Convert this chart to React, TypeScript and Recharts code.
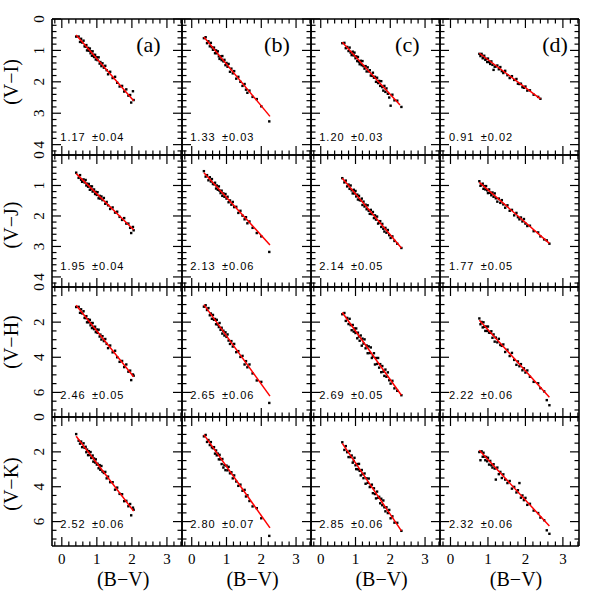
import React from 'react';
import { ScatterChart, Scatter, XAxis, YAxis } from 'recharts';

// B−V of the stars in each sample (columns a–d)
const bvA = [0.41, 0.48, 0.52, 0.55, 0.58, 0.62, 0.65, 0.68, 0.70, 0.72, 0.75, 0.77, 0.80, 0.82, 0.84, 0.86, 0.88, 0.90, 0.92, 0.95, 0.97, 1.00, 1.02, 1.05, 1.08, 1.10, 1.13, 1.16, 1.20, 1.24, 1.28, 1.32, 1.38, 1.45, 1.52, 1.58, 1.65, 1.72, 1.78, 1.84, 1.90, 1.95, 1.98, 2.03, 2.05];
const bvB = [0.35, 0.40, 0.44, 0.48, 0.52, 0.55, 0.58, 0.61, 0.64, 0.67, 0.70, 0.72, 0.75, 0.78, 0.80, 0.83, 0.86, 0.88, 0.91, 0.94, 0.97, 1.00, 1.03, 1.06, 1.10, 1.14, 1.18, 1.22, 1.28, 1.34, 1.40, 1.46, 1.52, 1.56, 1.60, 1.66, 1.75, 1.87, 2.00, 2.23];
const bvC = [0.62, 0.68, 0.72, 0.76, 0.80, 0.83, 0.86, 0.89, 0.92, 0.95, 0.97, 1.00, 1.02, 1.05, 1.07, 1.10, 1.12, 1.15, 1.18, 1.20, 1.23, 1.26, 1.29, 1.32, 1.35, 1.38, 1.41, 1.44, 1.47, 1.50, 1.53, 1.56, 1.59, 1.62, 1.65, 1.68, 1.71, 1.74, 1.77, 1.80, 1.83, 1.86, 1.89, 1.93, 1.97, 2.01, 2.06, 2.12, 2.20, 2.32];
const bvD = [0.77, 0.80, 0.83, 0.86, 0.88, 0.90, 0.93, 0.95, 0.98, 1.00, 1.03, 1.06, 1.09, 1.12, 1.15, 1.18, 1.21, 1.25, 1.29, 1.33, 1.37, 1.41, 1.46, 1.52, 1.58, 1.64, 1.70, 1.76, 1.80, 1.84, 1.88, 1.92, 1.96, 2.00, 2.05, 2.12, 2.22, 2.34, 2.40, 2.50, 2.57, 2.64];

// V−I
const viA = [0.56, 0.56, 0.73, 0.63, 0.75, 0.69, 0.87, 0.88, 0.83, 1.00, 0.92, 1.01, 0.94, 1.09, 1.03, 1.17, 1.03, 1.14, 1.21, 1.14, 1.29, 1.22, 1.31, 1.22, 1.42, 1.37, 1.50, 1.41, 1.55, 1.49, 1.63, 1.76, 1.68, 1.88, 1.84, 2.03, 2.15, 2.13, 2.31, 2.24, 2.44, 2.42, 2.66, 2.30, 2.58];
const viB = [0.61, 0.58, 0.77, 0.71, 0.87, 0.76, 0.90, 0.98, 0.91, 1.09, 1.00, 1.09, 1.03, 1.19, 1.27, 1.19, 1.31, 1.18, 1.35, 1.30, 1.47, 1.40, 1.52, 1.43, 1.68, 1.58, 1.73, 1.66, 1.90, 1.84, 2.00, 2.13, 2.07, 2.25, 2.35, 2.28, 2.48, 2.55, 2.78, 3.26];
const viC = [0.77, 0.76, 0.93, 0.89, 1.02, 0.91, 1.07, 1.15, 1.04, 1.16, 1.07, 1.25, 1.19, 1.34, 1.21, 1.36, 1.44, 1.33, 1.47, 1.34, 1.50, 1.58, 1.50, 1.67, 1.54, 1.67, 1.63, 1.80, 1.81, 1.71, 1.87, 1.84, 2.00, 1.87, 2.04, 1.97, 2.13, 1.98, 2.17, 2.28, 2.13, 2.32, 2.21, 2.38, 2.50, 2.76, 2.41, 2.59, 2.60, 2.80];
const viD = [1.11, 1.18, 1.11, 1.25, 1.22, 1.17, 1.30, 1.27, 1.37, 1.26, 1.37, 1.43, 1.35, 1.46, 1.62, 1.52, 1.51, 1.48, 1.60, 1.53, 1.66, 1.72, 1.65, 1.79, 1.88, 1.82, 1.94, 1.91, 2.06, 2.07, 2.06, 2.17, 2.19, 2.15, 2.28, 2.27, 2.41, 2.48, 2.54, null, null, null];

// V−J
const vjA = [0.58, 0.75, 0.66, 0.81, 0.88, 0.80, 0.90, 0.82, 1.00, 0.94, 1.04, 0.95, 1.14, 1.03, 1.12, 1.03, 1.20, 1.17, 1.13, 1.28, 1.21, 1.31, 1.22, 1.42, 1.34, 1.43, 1.36, 1.48, 1.41, 1.60, 1.54, 1.65, 1.77, 1.72, 1.89, 1.86, 2.03, 2.13, 2.07, 2.25, 2.25, 2.39, 2.56, 2.36, 2.47];
const vjB = [0.53, 0.71, 0.66, 0.83, 0.73, 0.87, 0.79, 0.95, 0.96, 0.91, 1.10, 1.00, 1.14, 1.03, 1.17, 1.25, 1.17, 1.34, 1.26, 1.37, 1.28, 1.43, 1.37, 1.55, 1.49, 1.63, 1.54, 1.71, 1.70, 1.90, 1.83, 1.99, 2.11, 2.04, 2.24, 2.18, 2.39, 2.56, 2.67, 3.18];
const vjC = [0.76, 0.90, 0.84, 1.03, 0.97, 1.11, 1.00, 1.16, 1.26, 1.14, 1.26, 1.18, 1.36, 1.30, 1.46, 1.34, 1.48, 1.49, 1.43, 1.64, 1.53, 1.69, 1.63, 1.78, 1.65, 1.83, 1.93, 1.80, 1.94, 1.87, 2.07, 1.98, 2.12, 2.02, 2.25, 2.22, 2.17, 2.36, 2.26, 2.42, 2.51, 2.39, 2.55, 2.46, 2.63, 2.72, 2.67, 2.82, 2.91, 3.05];
const vjD = [0.86, 1.01, 0.98, 0.94, 1.11, 1.02, 1.13, 1.02, 1.16, 1.25, 1.13, 1.24, 1.32, 1.23, 1.37, 1.26, 1.42, 1.53, 1.43, 1.57, 1.48, 1.62, 1.73, 1.65, 1.83, 1.80, 1.98, 1.90, 2.04, 2.11, 2.05, 2.18, 2.10, 2.25, 2.33, 2.32, 2.50, 2.54, 2.67, 2.77, 2.80, 2.91];

// V−H
const vhA = [1.14, 1.13, 1.47, 1.27, 1.50, 1.38, 1.76, 1.77, 1.66, 2.01, 1.84, 2.01, 1.87, 2.18, 2.05, 2.34, 2.05, 2.28, 2.40, 2.26, 2.57, 2.42, 2.61, 2.43, 2.82, 2.71, 2.99, 2.80, 3.08, 2.96, 3.24, 3.48, 3.33, 3.72, 3.63, 4.00, 4.26, 4.21, 4.56, 4.41, 4.82, 4.76, 5.30, 4.98, 5.05];
const vhB = [1.12, 1.04, 1.31, 1.20, 1.61, 1.51, 1.81, 1.59, 1.87, 1.82, 2.12, 1.87, 2.14, 2.28, 2.05, 2.44, 2.32, 2.65, 2.49, 2.76, 2.58, 2.84, 2.70, 3.05, 3.24, 3.08, 3.39, 3.24, 3.71, 3.65, 3.98, 3.92, 4.41, 4.22, 4.57, 4.41, 4.92, 5.32, 5.40, 6.60];
const vhC = [1.55, 1.48, 1.93, 1.76, 2.11, 1.81, 2.17, 2.46, 2.16, 2.54, 2.36, 2.62, 2.36, 2.92, 2.60, 2.82, 3.06, 2.76, 3.34, 2.94, 3.22, 2.98, 3.49, 3.33, 3.77, 3.38, 3.76, 3.44, 4.04, 3.95, 3.77, 4.41, 4.04, 4.38, 4.04, 4.59, 4.39, 4.85, 4.50, 4.82, 5.06, 4.70, 5.11, 4.86, 5.31, 5.50, 5.34, 5.77, 5.91, 6.16];
const vhD = [1.79, 2.12, 1.99, 2.30, 2.01, 2.27, 2.50, 2.25, 2.50, 2.25, 2.60, 2.61, 2.52, 2.89, 2.70, 3.11, 2.88, 3.15, 2.95, 3.30, 3.35, 3.27, 3.70, 3.57, 3.93, 3.75, 4.15, 4.43, 4.24, 4.51, 4.39, 4.74, 4.63, 4.87, 4.75, 5.11, 5.40, 5.48, 5.76, 5.94, 6.44, 6.73];

// V−K
const vkA = [0.98, 1.36, 1.53, 1.41, 1.73, 1.51, 1.77, 1.71, 2.02, 1.87, 2.19, 1.96, 2.18, 2.01, 2.35, 2.30, 2.21, 2.56, 2.38, 2.61, 2.43, 2.73, 2.68, 2.94, 2.76, 3.03, 2.81, 3.13, 3.21, 3.15, 3.52, 3.42, 3.74, 3.74, 4.17, 4.05, 4.41, 4.43, 4.83, 4.81, 5.12, 4.99, 5.64, 5.20, 5.32];
const vkB = [1.11, 1.03, 1.43, 1.32, 1.61, 1.44, 1.74, 1.79, 1.73, 2.10, 1.92, 2.20, 2.10, 2.43, 2.17, 2.43, 2.70, 2.41, 2.90, 2.76, 3.05, 2.79, 3.06, 2.86, 3.23, 3.17, 3.52, 3.35, 3.70, 3.95, 3.88, 4.23, 4.18, 4.56, 4.49, 4.82, 5.13, 5.23, 5.81, 6.82];
const vkC = [1.45, 1.89, 1.67, 2.02, 2.30, 1.95, 2.30, 2.21, 2.62, 2.52, 2.34, 2.77, 2.99, 2.70, 3.00, 2.69, 3.09, 3.35, 3.04, 3.28, 3.51, 3.24, 3.83, 3.52, 3.78, 3.53, 4.02, 3.97, 3.88, 4.37, 4.09, 4.42, 4.67, 4.28, 4.63, 4.58, 4.95, 4.69, 5.06, 4.79, 5.18, 5.41, 5.18, 5.51, 5.33, 5.81, 5.70, 6.06, 6.07, 6.53];
const vkD = [2.01, 2.48, 1.97, 2.28, 2.05, 2.27, 2.48, 2.29, 2.54, 2.34, 2.73, 2.52, 2.77, 2.90, 2.71, 2.96, 3.59, 2.90, 3.28, 3.15, 3.50, 3.29, 3.59, 3.79, 3.67, 4.11, 4.01, 4.33, 4.20, 3.79, 4.63, 4.50, 4.77, 4.64, 5.04, 4.98, 5.37, 5.51, 5.77, 5.92, 6.50, 6.70];

// fitted lines per column: [x0, y0, x1, y1]
const fitVI = [[0.41, 0.51, 2.05, 2.60], [0.35, 0.57, 2.25, 3.10], [0.62, 0.74, 2.28, 2.74], [0.77, 1.09, 2.40, 2.54]];
const fitVJ = [[0.41, 0.61, 2.05, 2.45], [0.35, 0.58, 2.25, 2.95], [0.62, 0.76, 2.32, 3.05], [0.77, 0.90, 2.64, 2.90]];
const fitVH = [[0.41, 1.04, 2.05, 5.11], [0.35, 1.00, 2.25, 6.21], [0.62, 1.45, 2.32, 6.16], [0.77, 1.89, 2.64, 6.27]];
const fitVK = [[0.41, 1.10, 2.05, 5.40], [0.35, 1.01, 2.25, 6.36], [0.62, 1.51, 2.32, 6.53], [0.77, 1.91, 2.64, 6.25]];

// slope labels
const slopeVI = ['1.17', '1.33', '1.20', '0.91'];
const errVI = ['0.04', '0.03', '0.03', '0.02'];
const slopeVJ = ['1.95', '2.13', '2.14', '1.77'];
const errVJ = ['0.04', '0.06', '0.05', '0.05'];
const slopeVH = ['2.46', '2.65', '2.69', '2.22'];
const errVH = ['0.05', '0.06', '0.05', '0.06'];
const slopeVK = ['2.52', '2.80', '2.85', '2.32'];
const errVK = ['0.06', '0.07', '0.06', '0.06'];

const panelLetters = ['(a)', '(b)', '(c)', '(d)'];
const yTitles = ['(V\u2212I)', '(V\u2212J)', '(V\u2212H)', '(V\u2212K)'];
const xTitle = '(B\u2212V)';

// ticks
const xTicks = [-0.2, 0, 0.2, 0.4, 0.6, 0.8, 1, 1.2, 1.4, 1.6, 1.8, 2, 2.2, 2.4, 2.6, 2.8, 3, 3.2, 3.4];
const xMajor = [0, 1, 2, 3];
const yTicksIJ = [0, 0.2, 0.4, 0.6, 0.8, 1, 1.2, 1.4, 1.6, 1.8, 2, 2.2, 2.4, 2.6, 2.8, 3, 3.2, 3.4, 3.6, 3.8, 4, 4.2];
const yMajorIJ = [0, 1, 2, 3, 4];
const yTicksHK = [0, 0.5, 1, 1.5, 2, 2.5, 3, 3.5, 4, 4.5, 5, 5.5, 6, 6.5, 7];
const yMajorHK = [0, 2, 4, 6];

// ---- layout ----
const COL_LEFT = [52, 182, 311, 440];
const COL_W = [130, 129, 129, 139];
const ROW_TOP = [19, 155, 287, 417];
const ROW_H = [136, 132, 130, 129];
const X_DOMAIN: [number, number] = [-0.28, 3.43];
const Y_DOMAINS: [number, number][] = [[0, 4.33], [0, 4.33], [0, 7.4], [0, 7.4]];
const MAJOR_LEN = 9;
const MINOR_LEN = 4.5;
const AX = 1; // axis band thickness (px) so that the axes render

const colBV = [bvA, bvB, bvC, bvD];
const rowY = [[viA, viB, viC, viD], [vjA, vjB, vjC, vjD], [vhA, vhB, vhC, vhD], [vkA, vkB, vkC, vkD]];
const rowFits = [fitVI, fitVJ, fitVH, fitVK];
const rowSlopes = [slopeVI, slopeVJ, slopeVH, slopeVK];
const rowErrs = [errVI, errVJ, errVH, errVK];
const rowTicks = [yTicksIJ, yTicksIJ, yTicksHK, yTicksHK];
const rowMajors = [yMajorIJ, yMajorIJ, yMajorHK, yMajorHK];

const serif = '"Liberation Serif", "DejaVu Serif", serif';
const sans = '"Liberation Sans", Arial, sans-serif';
const tickFont = { fontFamily: serif, fontSize: 15, fill: '#000' };
const titleFont = { fontFamily: serif, fontSize: 20, fill: '#000' };

function tickFactory(side: string, majors: number[], labelled: boolean) {
  return (props: any) => {
    const { x, y, payload } = props;
    const v = payload.value;
    const major = majors.some((m) => Math.abs(m - v) < 1e-6);
    const len = major ? MAJOR_LEN : MINOR_LEN;
    let x2 = x;
    let y2 = y;
    if (side === 'bottom') y2 = y - len;
    if (side === 'top') y2 = y + len;
    if (side === 'left') x2 = x + len;
    if (side === 'right') x2 = x - len;
    let label = null;
    if (labelled && major) {
      if (side === 'bottom') {
        label = (
          <text x={x} y={y + 18} textAnchor="middle" style={tickFont}>
            {String(v)}
          </text>
        );
      } else if (side === 'left') {
        label = (
          <text transform={`translate(${x - 8.5},${y}) rotate(-90)`} textAnchor="middle" style={tickFont}>
            {String(v)}
          </text>
        );
      }
    }
    return (
      <g>
        <line x1={x} y1={y} x2={x2} y2={y2} stroke="#000" strokeWidth={1.2} />
        {label}
      </g>
    );
  };
}

const Dot = (p: any) => <rect x={p.cx - 1.2} y={p.cy - 1.2} width={2.4} height={2.4} fill="#000" />;
const NoShape = () => <g />;

const axisLine = { stroke: '#000', strokeWidth: 1.6 };

function Panel({ row, col }: { row: number; col: number }) {
  const ys = rowY[row][col];
  const pts = colBV[col]
    .map((x, i) => ({ x, y: ys[i] }))
    .filter((p) => p.y !== null && p.y !== undefined);
  const f = rowFits[row][col];
  const fit = [
    { x: f[0], y: f[1] },
    { x: f[2], y: f[3] },
  ];
  const yDom = Y_DOMAINS[row];
  const yT = rowTicks[row];
  const yM = rowMajors[row];
  const common = { allowDataOverflow: true, interval: 0 as const, tickLine: false, tickSize: 0, tickMargin: 0, axisLine };
  return (
    <div style={{ position: 'absolute', left: COL_LEFT[col] - AX, top: ROW_TOP[row] - AX }}>
      <ScatterChart width={COL_W[col] + 2 * AX} height={ROW_H[row] + 2 * AX} margin={{ top: 0, right: 0, bottom: 0, left: 0 }}>
        <XAxis xAxisId="b" type="number" dataKey="x" domain={X_DOMAIN} ticks={xTicks} orientation="bottom" height={AX}
          tick={tickFactory('bottom', xMajor, row === 3)} {...common} />
        <XAxis xAxisId="t" type="number" dataKey="x" domain={X_DOMAIN} ticks={xTicks} orientation="top" height={AX}
          tick={tickFactory('top', xMajor, false)} {...common} />
        <YAxis yAxisId="l" type="number" dataKey="y" domain={yDom} ticks={yT} reversed orientation="left" width={AX}
          tick={tickFactory('left', yM, col === 0)} {...common} />
        <YAxis yAxisId="r" type="number" dataKey="y" domain={yDom} ticks={yT} reversed orientation="right" width={AX}
          tick={tickFactory('right', yM, false)} {...common} />
        <Scatter xAxisId="b" yAxisId="l" data={pts} shape={Dot} isAnimationActive={false} />
        <Scatter xAxisId="t" yAxisId="r" data={fit} shape={NoShape} line={{ stroke: '#ff0000', strokeWidth: 1.5 }}
          isAnimationActive={false} />
      </ScatterChart>
    </div>
  );
}

const colZero = (c: number) => COL_LEFT[c] + (-X_DOMAIN[0]) * (COL_W[c] / (X_DOMAIN[1] - X_DOMAIN[0]));
const colPx = (c: number, v: number) => colZero(c) + v * (COL_W[c] / (X_DOMAIN[1] - X_DOMAIN[0]));

const Y_TITLE_Y = [82, 225, 342, 484];
const LETTER_X = [2.47, 2.45, 2.49, 2.79];
const STAT_OFFSET = [14.5, 17.5, 18.5, 18];

export default function App() {
  const panels = [];
  for (let r = 0; r < 4; r++) for (let c = 0; c < 4; c++) panels.push(<Panel key={`${r}-${c}`} row={r} col={c} />);
  return (
    <div style={{ position: 'absolute', left: 0, top: 0, width: 596, height: 596, background: '#fff' }}>
      <style>{`.recharts-surface{overflow:visible}`}</style>
      {panels}
      <svg width={596} height={596} style={{ position: 'absolute', left: 0, top: 0, pointerEvents: 'none' }}>
        {yTitles.map((t, r) => (
          <text key={t} transform={`translate(17.5,${Y_TITLE_Y[r]}) rotate(-90)`} textAnchor="middle" style={titleFont}>
            {t}
          </text>
        ))}
        {COL_LEFT.map((_, c) => (
          <text key={`xt${c}`} x={colPx(c, 1.75)} y={586} textAnchor="middle" style={titleFont}>
            {xTitle}
          </text>
        ))}
        {panelLetters.map((t, c) => (
          <text key={t} x={colPx(c, LETTER_X[c])} y={51.5} textAnchor="middle"
            style={{ fontFamily: serif, fontSize: 22, fill: '#000' }}>
            {t}
          </text>
        ))}
        {rowSlopes.map((sl, r) =>
          sl.map((s, c) => {
            const x0 = colZero(c) - 1.5;
            const y0 = ROW_TOP[r] + ROW_H[r] - STAT_OFFSET[r];
            const st = { fontFamily: sans, fontSize: 11, letterSpacing: 1, fill: '#000' };
            return (
              <g key={`s${r}-${c}`}>
                <text x={x0} y={y0} style={st}>{s}</text>
                <text x={x0 + 31.7} y={y0} style={st}>{'\u00b1' + rowErrs[r][c]}</text>
              </g>
            );
          })
        )}
      </svg>
    </div>
  );
}
